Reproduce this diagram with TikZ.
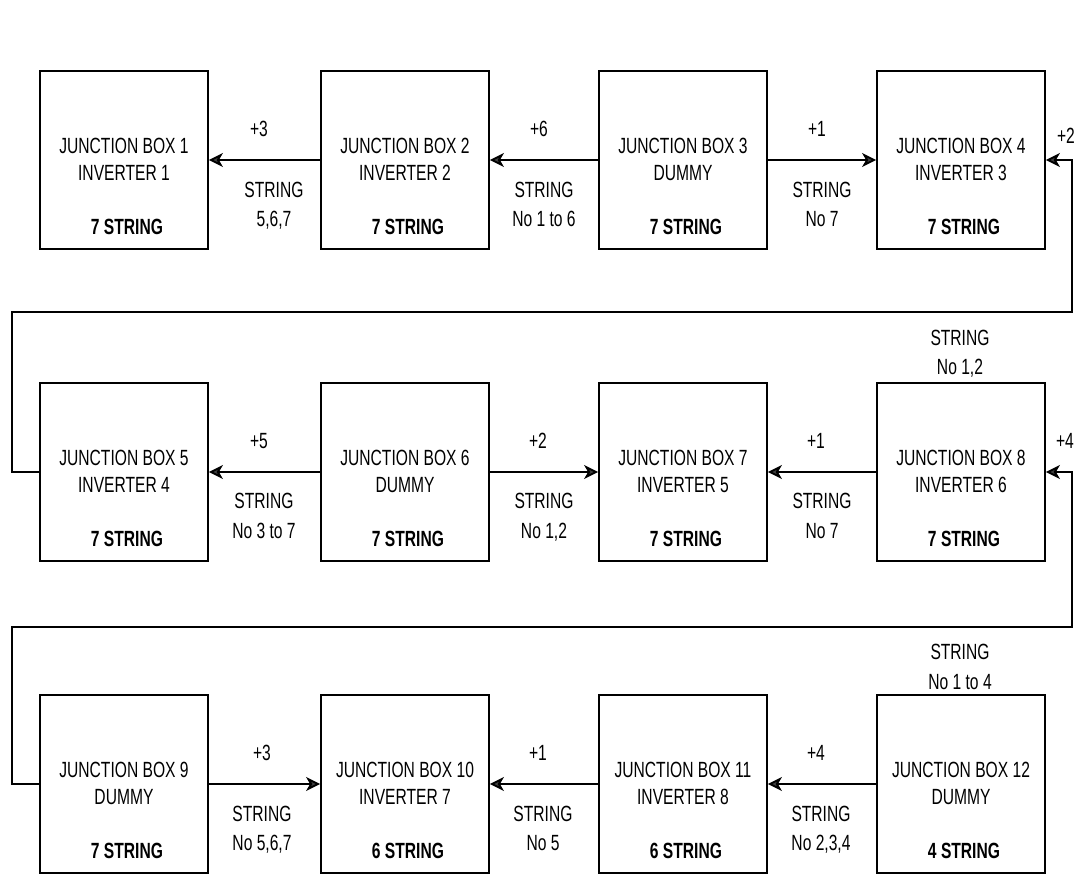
\documentclass[tikz,border=0pt]{standalone}
\usepackage{fontspec}
\setmainfont{Liberation Sans}[FakeStretch=0.71]
\usetikzlibrary{arrows.meta}
\newcommand\jbox[6]{%
  \node[jb] (#1) at (#2,#3) {};
  \node[txt] (#1a) at (#2,#3-14) {#4};
  \node[txt] (#1b) at (#2,#3+13) {#5};
  \node[btxt] (#1c) at (#2+3,#3+67) {#6};}
\begin{document}
\begin{tikzpicture}[x=1pt,y=-1pt,
  jb/.style={draw, line width=1.8pt, minimum width=168pt, minimum height=178pt, inner sep=0pt},
  txt/.style={font=\fontsize{22}{26}\selectfont, inner sep=0pt, text height=15.5pt, text depth=0pt},
  btxt/.style={txt, font=\fontsize{22}{26}\selectfont\bfseries},
  conn/.style={line width=1.9pt, -{Stealth[length=14pt,width=14pt,inset=4pt,fill=black!75]}}]
\useasboundingbox (0,0) rectangle (1077,878);

% row 1
\jbox{b1}{124}{160}{JUNCTION BOX 1}{INVERTER 1}{7 STRING}
\jbox{b2}{405}{160}{JUNCTION BOX 2}{INVERTER 2}{7 STRING}
\jbox{b3}{683}{160}{JUNCTION BOX 3}{DUMMY}{7 STRING}
\jbox{b4}{961}{160}{JUNCTION BOX 4}{INVERTER 3}{7 STRING}
% row 2
\jbox{b5}{124}{472}{JUNCTION BOX 5}{INVERTER 4}{7 STRING}
\jbox{b6}{405}{472}{JUNCTION BOX 6}{DUMMY}{7 STRING}
\jbox{b7}{683}{472}{JUNCTION BOX 7}{INVERTER 5}{7 STRING}
\jbox{b8}{961}{472}{JUNCTION BOX 8}{INVERTER 6}{7 STRING}
% row 3
\jbox{b9}{124}{784}{JUNCTION BOX 9}{DUMMY}{7 STRING}
\jbox{b10}{405}{784}{JUNCTION BOX 10}{INVERTER 7}{6 STRING}
\jbox{b11}{683}{784}{JUNCTION BOX 11}{INVERTER 8}{6 STRING}
\jbox{b12}{961}{784}{JUNCTION BOX 12}{DUMMY}{4 STRING}

% row 1 connectors
\draw[conn] (b2.west) -- (b1.east);
\draw[conn] (b3.west) -- (b2.east);
\draw[conn] (b3.east) -- (b4.west);
\node[txt] (l1a) at (259,129) {+3};
\node[txt] (l1b) at (274,190) {STRING};
\node[txt] (l1c) at (274,219) {5,6,7};
\node[txt] (l2a) at (539,129) {+6};
\node[txt] (l2b) at (544,190) {STRING};
\node[txt] (l2c) at (544,219) {No 1 to 6};
\node[txt] (l3a) at (817,129) {+1};
\node[txt] (l3b) at (822,190) {STRING};
\node[txt] (l3c) at (822,219) {No 7};

% row 2 connectors
\draw[conn] (b6.west) -- (b5.east);
\draw[conn] (b6.east) -- (b7.west);
\draw[conn] (b8.west) -- (b7.east);
\node[txt] (l4a) at (259,441) {+5};
\node[txt] (l4b) at (264,501) {STRING};
\node[txt] (l4c) at (264,531) {No 3 to 7};
\node[txt] (l5a) at (538,441) {+2};
\node[txt] (l5b) at (544,501) {STRING};
\node[txt] (l5c) at (544,531) {No 1,2};
\node[txt] (l6a) at (816,441) {+1};
\node[txt] (l6b) at (822,501) {STRING};
\node[txt] (l6c) at (822,531) {No 7};

% row 3 connectors
\draw[conn] (b9.east) -- (b10.west);
\draw[conn] (b11.west) -- (b10.east);
\draw[conn] (b12.west) -- (b11.east);
\node[txt] (l7a) at (262,753) {+3};
\node[txt] (l7b) at (262,814) {STRING};
\node[txt] (l7c) at (262,843) {No 5,6,7};
\node[txt] (l8a) at (538,753) {+1};
\node[txt] (l8b) at (543,814) {STRING};
\node[txt] (l8c) at (543,843) {No 5};
\node[txt] (l9a) at (816,753) {+4};
\node[txt] (l9b) at (821,814) {STRING};
\node[txt] (l9c) at (821,843) {No 2,3,4};

% loops
\coordinate (k1) at (12,312);
\coordinate (k2) at (1072,312);
\coordinate (k3) at (12,627);
\coordinate (k4) at (1072,627);
\draw[conn] (b5.west) -| (k1) -- (k2) |- (b4.east);
\draw[conn] (b9.west) -| (k3) -- (k4) |- (b8.east);
\node[txt] (m1a) at (1066,136) {+2};
\node[txt] (m1b) at (960,338) {STRING};
\node[txt] (m1c) at (960,367) {No 1,2};
\node[txt] (m2a) at (1065,441) {+4};
\node[txt] (m2b) at (960,652) {STRING};
\node[txt] (m2c) at (960,682) {No 1 to 4};
\end{tikzpicture}
\end{document}
